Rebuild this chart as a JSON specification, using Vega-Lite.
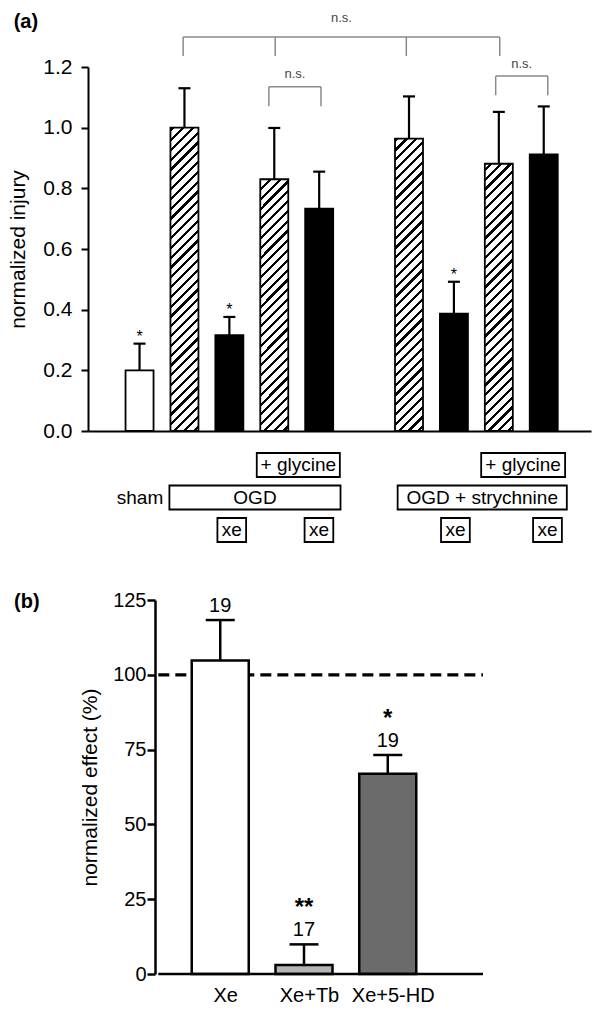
{
"$schema": "https://vega.github.io/schema/vega-lite/v6.json",
"padding": {"left": 7, "top": 11, "right": 4, "bottom": 4},
"background": "white",
"config": {
  "view": {"stroke": null},
  "font": "Liberation Sans",
  "axis": {"grid": false, "domainColor": "#000", "tickColor": "#000", "labelColor": "#000", "titleColor": "#000", "titleFontWeight": "normal", "labelFont": "Liberation Sans", "titleFont": "Liberation Sans"},
  "text": {"font": "Liberation Sans", "color": "#000"}
},
"datasets": {
  "injury": [
    {"slot": 0, "type": "open", "value": 0.200, "err": 0.288, "sig": "*"},
    {"slot": 1, "type": "hatched", "value": 1.000, "err": 1.130, "sig": ""},
    {"slot": 2, "type": "solid", "value": 0.316, "err": 0.376, "sig": "*"},
    {"slot": 3, "type": "hatched", "value": 0.830, "err": 0.999, "sig": ""},
    {"slot": 4, "type": "solid", "value": 0.733, "err": 0.855, "sig": ""},
    {"slot": 6, "type": "hatched", "value": 0.964, "err": 1.103, "sig": ""},
    {"slot": 7, "type": "solid", "value": 0.387, "err": 0.492, "sig": "*"},
    {"slot": 8, "type": "hatched", "value": 0.881, "err": 1.052, "sig": ""},
    {"slot": 9, "type": "solid", "value": 0.912, "err": 1.070, "sig": ""}
  ],
  "brackets": [
    {"from": 0.97, "to": 8.02, "level": 1.299, "mid": 4.495, "labelLevel": 1.3626},
    {"from": 2.88, "to": 4.04, "level": 1.135, "mid": 3.46, "labelLevel": 1.178},
    {"from": 7.93, "to": 9.09, "level": 1.170, "mid": 8.51, "labelLevel": 1.211}
  ],
  "legs": [
    {"at": 0.97, "level": 1.299, "foot": 1.236},
    {"at": 3.02, "level": 1.299, "foot": 1.236},
    {"at": 5.94, "level": 1.299, "foot": 1.236},
    {"at": 8.02, "level": 1.299, "foot": 1.236},
    {"at": 2.88, "level": 1.135, "foot": 1.071},
    {"at": 4.04, "level": 1.135, "foot": 1.071},
    {"at": 7.93, "level": 1.170, "foot": 1.107},
    {"at": 9.09, "level": 1.170, "foot": 1.107}
  ],
  "notes": [
    {"row": "glycine", "from": 2.61, "to": 4.46, "at": 3.535, "label": "+ glycine", "boxed": true},
    {"row": "glycine", "from": 7.607, "to": 9.476, "at": 8.54, "label": "+ glycine", "boxed": true},
    {"row": "cond", "from": null, "to": null, "at": 0.01, "label": "sham", "boxed": false},
    {"row": "cond", "from": 0.665, "to": 4.475, "at": 2.57, "label": "OGD", "boxed": true},
    {"row": "cond", "from": 5.747, "to": 9.514, "at": 7.63, "label": "OGD + strychnine", "boxed": true},
    {"row": "xe", "from": 1.734, "to": 2.373, "at": 2.054, "label": "xe", "boxed": true},
    {"row": "xe", "from": 3.675, "to": 4.314, "at": 3.995, "label": "xe", "boxed": true},
    {"row": "xe", "from": 6.713, "to": 7.354, "at": 7.034, "label": "xe", "boxed": true},
    {"row": "xe", "from": 8.763, "to": 9.404, "at": 9.084, "label": "xe", "boxed": true}
  ],
  "effect": [
    {"slot": 0, "cond": "Xe", "value": 104.8, "err": 118.3, "n": "19", "sig": ""},
    {"slot": 1, "cond": "Xe+Tb", "value": 3.0, "err": 9.9, "n": "17", "sig": "**"},
    {"slot": 2, "cond": "Xe+5-HD", "value": 66.9, "err": 73.2, "n": "19", "sig": "*"}
  ],
  "reference": [{"ref": 100}],
  "baseline": [{"base": 0}]
},
"bounds": "flush",
"spacing": 169,
"resolve": {"scale": {"fill": "independent"}},
"vconcat": [
{
  "width": 503,
  "height": 364,
  "resolve": {"scale": {"y": "independent"}},
  "layer": [
    {
      "layer": [
        {
          "data": {"name": "injury"},
          "transform": [{"filter": "datum.type === 'hatched'"}],
          "mark": {"type": "bar", "width": 28, "strokeWidth": 0, "fill": {"gradient": "linear", "x1": 0, "y1": 0, "x2": 0.0824, "y2": 1.0706, "stops": [
            {"offset": 0, "color": "#fff"},
            {"offset": 0.009, "color": "#fff"}, {"offset": 0.009, "color": "#000"}, {"offset": 0.017, "color": "#000"}, {"offset": 0.017, "color": "#fff"},
            {"offset": 0.034, "color": "#fff"}, {"offset": 0.034, "color": "#000"}, {"offset": 0.042, "color": "#000"}, {"offset": 0.042, "color": "#fff"},
            {"offset": 0.059, "color": "#fff"}, {"offset": 0.059, "color": "#000"}, {"offset": 0.067, "color": "#000"}, {"offset": 0.067, "color": "#fff"},
            {"offset": 0.084, "color": "#fff"}, {"offset": 0.084, "color": "#000"}, {"offset": 0.092, "color": "#000"}, {"offset": 0.092, "color": "#fff"},
            {"offset": 0.109, "color": "#fff"}, {"offset": 0.109, "color": "#000"}, {"offset": 0.117, "color": "#000"}, {"offset": 0.117, "color": "#fff"},
            {"offset": 0.134, "color": "#fff"}, {"offset": 0.134, "color": "#000"}, {"offset": 0.142, "color": "#000"}, {"offset": 0.142, "color": "#fff"},
            {"offset": 0.159, "color": "#fff"}, {"offset": 0.159, "color": "#000"}, {"offset": 0.167, "color": "#000"}, {"offset": 0.167, "color": "#fff"},
            {"offset": 0.184, "color": "#fff"}, {"offset": 0.184, "color": "#000"}, {"offset": 0.192, "color": "#000"}, {"offset": 0.192, "color": "#fff"},
            {"offset": 0.209, "color": "#fff"}, {"offset": 0.209, "color": "#000"}, {"offset": 0.217, "color": "#000"}, {"offset": 0.217, "color": "#fff"},
            {"offset": 0.234, "color": "#fff"}, {"offset": 0.234, "color": "#000"}, {"offset": 0.242, "color": "#000"}, {"offset": 0.242, "color": "#fff"},
            {"offset": 0.259, "color": "#fff"}, {"offset": 0.259, "color": "#000"}, {"offset": 0.267, "color": "#000"}, {"offset": 0.267, "color": "#fff"},
            {"offset": 0.284, "color": "#fff"}, {"offset": 0.284, "color": "#000"}, {"offset": 0.292, "color": "#000"}, {"offset": 0.292, "color": "#fff"},
            {"offset": 0.309, "color": "#fff"}, {"offset": 0.309, "color": "#000"}, {"offset": 0.317, "color": "#000"}, {"offset": 0.317, "color": "#fff"},
            {"offset": 0.334, "color": "#fff"}, {"offset": 0.334, "color": "#000"}, {"offset": 0.342, "color": "#000"}, {"offset": 0.342, "color": "#fff"},
            {"offset": 0.359, "color": "#fff"}, {"offset": 0.359, "color": "#000"}, {"offset": 0.367, "color": "#000"}, {"offset": 0.367, "color": "#fff"},
            {"offset": 0.384, "color": "#fff"}, {"offset": 0.384, "color": "#000"}, {"offset": 0.392, "color": "#000"}, {"offset": 0.392, "color": "#fff"},
            {"offset": 0.409, "color": "#fff"}, {"offset": 0.409, "color": "#000"}, {"offset": 0.417, "color": "#000"}, {"offset": 0.417, "color": "#fff"},
            {"offset": 0.434, "color": "#fff"}, {"offset": 0.434, "color": "#000"}, {"offset": 0.442, "color": "#000"}, {"offset": 0.442, "color": "#fff"},
            {"offset": 0.459, "color": "#fff"}, {"offset": 0.459, "color": "#000"}, {"offset": 0.467, "color": "#000"}, {"offset": 0.467, "color": "#fff"},
            {"offset": 0.484, "color": "#fff"}, {"offset": 0.484, "color": "#000"}, {"offset": 0.492, "color": "#000"}, {"offset": 0.492, "color": "#fff"},
            {"offset": 0.509, "color": "#fff"}, {"offset": 0.509, "color": "#000"}, {"offset": 0.517, "color": "#000"}, {"offset": 0.517, "color": "#fff"},
            {"offset": 0.534, "color": "#fff"}, {"offset": 0.534, "color": "#000"}, {"offset": 0.542, "color": "#000"}, {"offset": 0.542, "color": "#fff"},
            {"offset": 0.559, "color": "#fff"}, {"offset": 0.559, "color": "#000"}, {"offset": 0.567, "color": "#000"}, {"offset": 0.567, "color": "#fff"},
            {"offset": 0.584, "color": "#fff"}, {"offset": 0.584, "color": "#000"}, {"offset": 0.592, "color": "#000"}, {"offset": 0.592, "color": "#fff"},
            {"offset": 0.609, "color": "#fff"}, {"offset": 0.609, "color": "#000"}, {"offset": 0.617, "color": "#000"}, {"offset": 0.617, "color": "#fff"},
            {"offset": 0.634, "color": "#fff"}, {"offset": 0.634, "color": "#000"}, {"offset": 0.642, "color": "#000"}, {"offset": 0.642, "color": "#fff"},
            {"offset": 0.659, "color": "#fff"}, {"offset": 0.659, "color": "#000"}, {"offset": 0.667, "color": "#000"}, {"offset": 0.667, "color": "#fff"},
            {"offset": 0.684, "color": "#fff"}, {"offset": 0.684, "color": "#000"}, {"offset": 0.692, "color": "#000"}, {"offset": 0.692, "color": "#fff"},
            {"offset": 0.709, "color": "#fff"}, {"offset": 0.709, "color": "#000"}, {"offset": 0.717, "color": "#000"}, {"offset": 0.717, "color": "#fff"},
            {"offset": 0.734, "color": "#fff"}, {"offset": 0.734, "color": "#000"}, {"offset": 0.742, "color": "#000"}, {"offset": 0.742, "color": "#fff"},
            {"offset": 0.759, "color": "#fff"}, {"offset": 0.759, "color": "#000"}, {"offset": 0.767, "color": "#000"}, {"offset": 0.767, "color": "#fff"},
            {"offset": 0.784, "color": "#fff"}, {"offset": 0.784, "color": "#000"}, {"offset": 0.792, "color": "#000"}, {"offset": 0.792, "color": "#fff"},
            {"offset": 0.809, "color": "#fff"}, {"offset": 0.809, "color": "#000"}, {"offset": 0.817, "color": "#000"}, {"offset": 0.817, "color": "#fff"},
            {"offset": 0.834, "color": "#fff"}, {"offset": 0.834, "color": "#000"}, {"offset": 0.842, "color": "#000"}, {"offset": 0.842, "color": "#fff"},
            {"offset": 0.859, "color": "#fff"}, {"offset": 0.859, "color": "#000"}, {"offset": 0.867, "color": "#000"}, {"offset": 0.867, "color": "#fff"},
            {"offset": 0.884, "color": "#fff"}, {"offset": 0.884, "color": "#000"}, {"offset": 0.892, "color": "#000"}, {"offset": 0.892, "color": "#fff"},
            {"offset": 0.909, "color": "#fff"}, {"offset": 0.909, "color": "#000"}, {"offset": 0.917, "color": "#000"}, {"offset": 0.917, "color": "#fff"},
            {"offset": 0.934, "color": "#fff"}, {"offset": 0.934, "color": "#000"}, {"offset": 0.942, "color": "#000"}, {"offset": 0.942, "color": "#fff"},
            {"offset": 0.959, "color": "#fff"}, {"offset": 0.959, "color": "#000"}, {"offset": 0.967, "color": "#000"}, {"offset": 0.967, "color": "#fff"},
            {"offset": 0.984, "color": "#fff"}, {"offset": 0.984, "color": "#000"}, {"offset": 0.992, "color": "#000"}, {"offset": 0.992, "color": "#fff"},
            {"offset": 1, "color": "#fff"}
          ]}},
          "encoding": {
            "x": {"field": "slot", "type": "quantitative", "scale": {"domain": [-1.0362, 9.941], "nice": false, "zero": false}},
            "y": {"datum": 0, "type": "quantitative", "scale": {"domain": [0, 1.2], "nice": false}},
            "y2": {"datum": 1.2}
          }
        },
        {
          "data": {"name": "injury"},
          "transform": [{"filter": "datum.type === 'hatched'"}],
          "mark": {"type": "bar", "width": 31, "fill": "#ffffff", "strokeWidth": 0},
          "encoding": {
            "x": {"field": "slot", "type": "quantitative", "scale": {"domain": [-1.0362, 9.941], "nice": false, "zero": false}},
            "y": {"field": "value", "type": "quantitative", "scale": {"domain": [0, 1.2], "nice": false}},
            "y2": {"datum": 1.2}
          }
        },
        {
          "data": {"name": "injury"},
          "mark": {"type": "bar", "width": 28, "stroke": "#000", "strokeWidth": 1.8},
          "encoding": {
            "x": {"field": "slot", "type": "quantitative", "scale": {"domain": [-1.0362, 9.941], "nice": false, "zero": false}, "axis": {"labels": false, "ticks": false, "title": null, "domain": true, "domainWidth": 2, "grid": false}},
            "y": {"field": "value", "type": "quantitative", "scale": {"domain": [0, 1.2], "nice": false}, "axis": {"title": "normalized injury", "values": [0, 0.2, 0.4, 0.6, 0.8, 1.0, 1.2], "format": ".1f", "labelFontSize": 21, "titleFontSize": 21, "tickSize": 7, "tickWidth": 2, "domainWidth": 2, "labelPadding": 9, "titlePadding": 14, "grid": false}},
            "fill": {"field": "type", "type": "nominal", "scale": {"domain": ["open", "hatched", "solid"], "range": ["#ffffff", "transparent", "#000000"]}, "legend": null}
          }
        },
        {
          "data": {"name": "injury"},
          "mark": {"type": "rule", "strokeWidth": 2.2, "color": "#000"},
          "encoding": {
            "x": {"field": "slot", "type": "quantitative", "scale": {"domain": [-1.0362, 9.941], "nice": false, "zero": false}},
            "y": {"field": "value", "type": "quantitative", "scale": {"domain": [0, 1.2], "nice": false}},
            "y2": {"field": "err"}
          }
        },
        {
          "data": {"name": "injury"},
          "mark": {"type": "tick", "orient": "horizontal", "size": 12, "thickness": 2.2, "color": "#000", "opacity": 1},
          "encoding": {
            "x": {"field": "slot", "type": "quantitative", "scale": {"domain": [-1.0362, 9.941], "nice": false, "zero": false}},
            "y": {"field": "err", "type": "quantitative", "scale": {"domain": [0, 1.2], "nice": false}}
          }
        },
        {
          "data": {"name": "injury"},
          "transform": [{"filter": "datum.sig !== ''"}],
          "mark": {"type": "text", "fontSize": 16, "dy": -2, "baseline": "alphabetic", "color": "#000"},
          "encoding": {
            "x": {"field": "slot", "type": "quantitative", "scale": {"domain": [-1.0362, 9.941], "nice": false, "zero": false}},
            "y": {"field": "err", "type": "quantitative", "scale": {"domain": [0, 1.2], "nice": false}},
            "text": {"field": "sig"}
          }
        },
        {
          "data": {"name": "brackets"},
          "mark": {"type": "rule", "color": "#8a8a8a", "strokeWidth": 1.5},
          "encoding": {
            "x": {"field": "from", "type": "quantitative", "scale": {"domain": [-1.0362, 9.941], "nice": false, "zero": false}},
            "x2": {"field": "to"},
            "y": {"field": "level", "type": "quantitative", "scale": {"domain": [0, 1.2], "nice": false}}
          }
        },
        {
          "data": {"name": "legs"},
          "mark": {"type": "rule", "color": "#8a8a8a", "strokeWidth": 1.5},
          "encoding": {
            "x": {"field": "at", "type": "quantitative", "scale": {"domain": [-1.0362, 9.941], "nice": false, "zero": false}},
            "y": {"field": "level", "type": "quantitative", "scale": {"domain": [0, 1.2], "nice": false}},
            "y2": {"field": "foot"}
          }
        },
        {
          "data": {"name": "brackets"},
          "mark": {"type": "text", "fontSize": 13, "color": "#444444", "baseline": "middle"},
          "encoding": {
            "x": {"field": "mid", "type": "quantitative", "scale": {"domain": [-1.0362, 9.941], "nice": false, "zero": false}},
            "y": {"field": "labelLevel", "type": "quantitative", "scale": {"domain": [0, 1.2], "nice": false}},
            "text": {"value": "n.s."}
          }
        },
        {
          "data": {"values": [{"label": "(a)"}]},
          "mark": {"type": "text", "fontSize": 20, "fontWeight": "bold", "align": "left", "baseline": "alphabetic", "color": "#000"},
          "encoding": {
            "x": {"datum": -2.803, "type": "quantitative", "scale": {"domain": [-1.0362, 9.941], "nice": false, "zero": false}},
            "y": {"datum": 1.327, "type": "quantitative", "scale": {"domain": [0, 1.2], "nice": false}},
            "text": {"field": "label"}
          }
        }
      ]
    },
    {
      "data": {"name": "notes"},
      "encoding": {
        "y": {"field": "row", "type": "nominal", "scale": {"type": "point", "domain": ["glycine", "cond", "xe"], "range": [398, 463], "padding": 0}, "axis": null}
      },
      "layer": [
        {
          "transform": [{"filter": "datum.boxed"}],
          "mark": {"type": "bar", "height": 24, "fill": "#ffffff", "stroke": "#000", "strokeWidth": 1.8},
          "encoding": {
            "x": {"field": "from", "type": "quantitative", "scale": {"domain": [-1.0362, 9.941], "nice": false, "zero": false}},
            "x2": {"field": "to"}
          }
        },
        {
          "mark": {"type": "text", "fontSize": 19, "baseline": "middle", "color": "#000"},
          "encoding": {
            "x": {"field": "at", "type": "quantitative", "scale": {"domain": [-1.0362, 9.941], "nice": false, "zero": false}},
            "text": {"field": "label"}
          }
        }
      ]
    }
  ]
},
{
  "width": 400,
  "height": 374,
  "layer": [
    {
      "data": {"name": "reference"},
      "mark": {"type": "rule", "strokeDash": [11, 6], "strokeWidth": 3.2, "color": "#000"},
      "encoding": {
        "x": {"datum": -0.739, "type": "quantitative", "scale": {"domain": [-1.519, 3.137], "nice": false, "zero": false}},
        "x2": {"datum": 3.137},
        "y": {"field": "ref", "type": "quantitative", "scale": {"domain": [0, 125], "nice": false}}
      }
    },
    {
      "data": {"name": "effect"},
      "mark": {"type": "bar", "width": 57, "stroke": "#000", "strokeWidth": 2.5},
      "encoding": {
        "x": {"field": "slot", "type": "quantitative", "scale": {"domain": [-1.519, 3.137], "nice": false, "zero": false}, "axis": {"values": [0, 1, 2], "labelExpr": "datum.value == 0 ? 'Xe' : datum.value == 1 ? 'Xe+Tb' : 'Xe+5-HD'", "labelFontSize": 20, "ticks": false, "domain": false, "labelPadding": 11, "labelOffset": 5, "title": null, "grid": false}},
        "y": {"field": "value", "type": "quantitative", "scale": {"domain": [0, 125], "nice": false}, "axis": {"title": "normalized effect (%)", "values": [0, 25, 50, 75, 100, 125], "labelFontSize": 20, "titleFontSize": 21, "tickSize": 8, "tickWidth": 2.5, "domainWidth": 2.5, "labelPadding": 1, "titlePadding": 12, "offset": -67, "grid": false}},
        "fill": {"field": "cond", "type": "nominal", "scale": {"domain": ["Xe", "Xe+Tb", "Xe+5-HD"], "range": ["#ffffff", "#b5b5b5", "#6b6b6b"]}, "legend": null}
      }
    },
    {
      "data": {"name": "baseline"},
      "mark": {"type": "rule", "strokeWidth": 2.5, "color": "#000"},
      "encoding": {
        "x": {"datum": -0.739, "type": "quantitative", "scale": {"domain": [-1.519, 3.137], "nice": false, "zero": false}},
        "x2": {"datum": 3.137},
        "y": {"field": "base", "type": "quantitative", "scale": {"domain": [0, 125], "nice": false}}
      }
    },
    {
      "data": {"name": "effect"},
      "mark": {"type": "rule", "strokeWidth": 2.5, "color": "#000"},
      "encoding": {
        "x": {"field": "slot", "type": "quantitative", "scale": {"domain": [-1.519, 3.137], "nice": false, "zero": false}},
        "y": {"field": "value", "type": "quantitative", "scale": {"domain": [0, 125], "nice": false}},
        "y2": {"field": "err"}
      }
    },
    {
      "data": {"name": "effect"},
      "mark": {"type": "tick", "orient": "horizontal", "size": 29, "thickness": 2.5, "color": "#000", "opacity": 1},
      "encoding": {
        "x": {"field": "slot", "type": "quantitative", "scale": {"domain": [-1.519, 3.137], "nice": false, "zero": false}},
        "y": {"field": "err", "type": "quantitative", "scale": {"domain": [0, 125], "nice": false}}
      }
    },
    {
      "data": {"name": "effect"},
      "mark": {"type": "text", "fontSize": 20, "dy": -8, "baseline": "alphabetic", "color": "#000"},
      "encoding": {
        "x": {"field": "slot", "type": "quantitative", "scale": {"domain": [-1.519, 3.137], "nice": false, "zero": false}},
        "y": {"field": "err", "type": "quantitative", "scale": {"domain": [0, 125], "nice": false}},
        "text": {"field": "n"}
      }
    },
    {
      "data": {"name": "effect"},
      "transform": [{"filter": "datum.sig !== ''"}],
      "mark": {"type": "text", "fontSize": 24, "fontWeight": "bold", "dy": -29, "baseline": "alphabetic", "color": "#000"},
      "encoding": {
        "x": {"field": "slot", "type": "quantitative", "scale": {"domain": [-1.519, 3.137], "nice": false, "zero": false}},
        "y": {"field": "err", "type": "quantitative", "scale": {"domain": [0, 125], "nice": false}},
        "text": {"field": "sig"}
      }
    },
    {
      "data": {"values": [{"label": "(b)"}]},
      "mark": {"type": "text", "fontSize": 20, "fontWeight": "bold", "align": "left", "baseline": "alphabetic", "color": "#000"},
      "encoding": {
        "x": {"datum": -2.462, "type": "quantitative", "scale": {"domain": [-1.519, 3.137], "nice": false, "zero": false}},
        "y": {"datum": 122.2, "type": "quantitative", "scale": {"domain": [0, 125], "nice": false}},
        "text": {"field": "label"}
      }
    }
  ]
}
]
}
